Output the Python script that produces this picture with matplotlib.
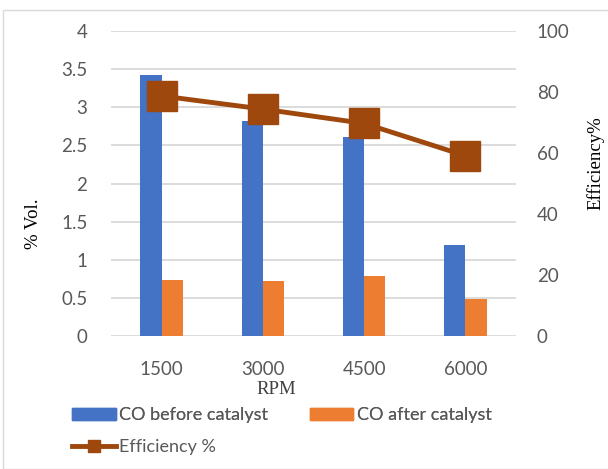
import numpy as np
import matplotlib.pyplot as plt
from matplotlib.lines import Line2D
from matplotlib.patches import Patch, Rectangle

# Engine speed vs CO concentration, before and after the catalytic converter
rpm = ["1500", "3000", "4500", "6000"]
co_before = [3.42, 2.82, 2.61, 1.19]
co_after = [0.73, 0.72, 0.79, 0.49]
efficiency = [78.7, 74.4, 69.7, 59.1]

blue = "#4472C4"
orange = "#ED7D31"
brown = "#9E480E"
tick_gray = "#595959"
grid_gray = "#D9D9D9"

fig = plt.figure(figsize=(6.08, 4.69), dpi=100)
W, H = 608, 469
ax = fig.add_axes([111 / W, 1 - 336 / H, 405 / W, 305 / H])
ax2 = ax.twinx()

x = np.arange(len(rpm))
bw = 0.21
ax.bar(x - bw / 2, co_before, bw, color=blue, zorder=2)
ax.bar(x + bw / 2, co_after, bw, color=orange, zorder=2)
ax.set_xlim(-0.5, len(rpm) - 0.5)
ax.set_ylim(0, 4)
ax.set_yticks(np.arange(0, 4.01, 0.5))
ax.set_yticklabels(["0", "0.5", "1", "1.5", "2", "2.5", "3", "3.5", "4"])
ax.set_xticks(x)
ax.set_xticklabels(rpm)
ax.grid(axis="y", color=grid_gray, linewidth=1.3, zorder=0)
ax.set_axisbelow(True)

ax2.plot(x, efficiency, color=brown, linewidth=3.5, marker="s", markersize=22, zorder=3)
ax2.set_ylim(0, 100)
ax2.set_yticks(np.arange(0, 101, 20))

for a in (ax, ax2):
    for s in a.spines.values():
        s.set_visible(False)
    a.tick_params(length=0, labelsize=13.5, labelcolor=tick_gray)
    for lbl in a.get_xticklabels() + a.get_yticklabels():
        lbl.set_fontfamily("Lato")
ax.tick_params(axis="y", pad=17)
ax.tick_params(axis="x", pad=18)
ax2.tick_params(axis="y", pad=15)

serif = "Liberation Serif"
ax.set_xlabel("RPM", fontsize=13.5, family=serif, color="#404040")
ax.xaxis.set_label_coords((276 - 111) / 405, -(381 - 336) / 305)
ax.set_ylabel("% Vol.", fontsize=13.5, family=serif, color="black")
ax.yaxis.set_label_coords(-(111 - 42) / 405, (336 - 224) / 305)
ax2.set_ylabel("Efficiency%", fontsize=13.5, family=serif, color="black")
ax2.yaxis.set_label_coords((587 - 111) / 405, (336 - 163) / 305)

# chart frame
fig.patches.append(Rectangle((3 / W, 0), 1, 1 - 10 / H, transform=fig.transFigure,
                             fill=False, edgecolor="#D9D9D9", linewidth=1))

handles = [Patch(color=blue), Patch(color=orange),
           Line2D([], [], color=brown, linewidth=3.5, marker="s", markersize=8)]
labels = ["CO before catalyst", "CO after catalyst", "Efficiency %"]
leg_font = {"family": "Lato", "size": 13}
leg = fig.legend(handles[:2], labels[:2], ncol=2, loc="upper left",
                 bbox_to_anchor=(56 / W, 1 - 391 / H), frameon=False,
                 prop=leg_font, handlelength=2.4, handleheight=0.6,
                 columnspacing=2.3, handletextpad=0.2, labelcolor=tick_gray)
fig.add_artist(leg)
fig.legend(handles[2:], labels[2:], loc="upper left",
           bbox_to_anchor=(56 / W, 1 - 423 / H), frameon=False,
           prop=leg_font, handlelength=2.4, handletextpad=0.2,
           labelcolor=tick_gray)

fig.savefig("out.png", dpi=100)
